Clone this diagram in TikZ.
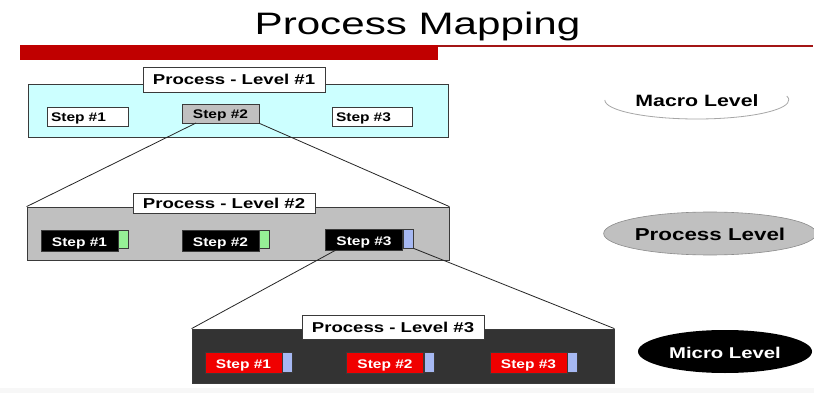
\documentclass[tikz,border=0pt]{standalone}
\usepackage{fontspec}
\setmainfont{Liberation Sans}
\newfontfamily\titlefont[FakeStretch=1.36]{Liberation Sans}
\newfontfamily\labelfont[FakeStretch=1.3]{Liberation Sans}
\newfontfamily\stepfont[FakeStretch=1.24]{Liberation Sans}
\usetikzlibrary{shapes.geometric}

\definecolor{barred}{HTML}{C00000}
\definecolor{barline}{HTML}{A31515}
\definecolor{cyanbg}{HTML}{CCFFFF}
\definecolor{greybox}{HTML}{C0C0C0}
\definecolor{darkbg}{HTML}{333333}
\definecolor{tabgreen}{HTML}{96F096}
\definecolor{tabblue}{HTML}{A6B8F2}
\definecolor{stepred}{HTML}{F00000}
\definecolor{edge}{HTML}{3A3A3A}

\tikzset{
  panel/.style={draw=edge, line width=0.8pt, inner sep=0pt},
  heading/.style={draw=edge, fill=white, line width=0.8pt, minimum width=182pt,
    inner sep=0pt, text height=11pt, text depth=0pt,
    font=\labelfont\bfseries\fontsize{14.3}{16}\selectfont},
  stepbox/.style={draw=edge, line width=0.7pt, minimum width=77pt, minimum height=21pt,
    inner sep=0pt, text height=11pt, text depth=0pt,
    font=\stepfont\bfseries\fontsize{12.5}{14}\selectfont},
  tab/.style={draw=edge, line width=0.7pt, minimum width=10pt, minimum height=19pt,
    inner sep=0pt, anchor=north west},
  link/.style={draw=black!85, line width=0.8pt},
  levelname/.style={ellipse, inner sep=0pt, text height=13pt, text depth=0pt,
    font=\labelfont\bfseries\fontsize{16.5}{19}\selectfont}
}

\begin{document}
\begin{tikzpicture}[x=1pt,y=-1pt]
\useasboundingbox (0,0) rectangle (814,393);
\fill[white] (0,0) rectangle (814,393);
\fill[black!3] (0,388) rectangle (814,393);

% heading and red rule
\node[font=\titlefont\fontsize{31}{36}\selectfont, anchor=base] (title) at (417.5,35) {Process Mapping};
\draw[line width=2.5pt, barline] (430,46.2) -- (813,46.2);
\fill[barred] (20,45) rectangle (438,60);

% level 1
\node[panel, fill=cyanbg, minimum width=420pt, minimum height=53pt] (lvlA) at (238,110.5) {};
\node[heading, minimum height=25pt] (headA) at (234,79.5) {Process - Level \#1};
\node[stepbox, fill=white, minimum width=81pt, minimum height=19pt, text width=73pt, align=left] (a1) at (87.5,116.5) {Step \#1};
\node[stepbox, fill=greybox, minimum height=19pt] (a2) at (220.5,113.5) {Step \#2};
\node[stepbox, fill=white, minimum width=80pt, minimum height=19pt, text width=72pt, align=left] (a3) at (372,116.5) {Step \#3};

% level 2
\node[panel, fill=greybox, minimum width=422pt, minimum height=53pt] (lvlB) at (238,233.5) {};
\node[heading, minimum height=20pt] (headB) at (224,203) {Process - Level \#2};
\node[stepbox, fill=black, text=white] (b1) at (79.5,240.5) {Step \#1};
\node[tab, fill=tabgreen, minimum height=18pt] (g1) at (b1.north east) {};
\node[stepbox, fill=black, text=white] (b2) at (220.5,240.5) {Step \#2};
\node[tab, fill=tabgreen, minimum height=18pt] (g2) at (b2.north east) {};
\node[stepbox, fill=black, text=white] (b3) at (364,239.5) {Step \#3};
\node[tab, fill=tabblue] (t3) at (b3.north east) {};

% level 3
\node[panel, fill=darkbg, minimum width=422pt, minimum height=54pt] (lvlC) at (403,356) {};
\node[heading, minimum height=24pt] (headC) at (393,327) {Process - Level \#3};
\node[stepbox, fill=stepred, text=white] (c1) at (243.5,362.5) {Step \#1};
\node[tab, fill=tabblue, minimum height=20pt] (u1) at (c1.north east) {};
\node[stepbox, fill=stepred, text=white] (c2) at (385,362.5) {Step \#2};
\node[tab, fill=tabblue, minimum height=20pt] (u2) at (c2.north east) {};
\node[stepbox, fill=stepred, text=white] (c3) at (528.5,362.5) {Step \#3};
\node[tab, fill=tabblue, minimum height=20pt] (u3) at (c3.north east) {};

% zoom lines between levels
\coordinate (a2foot) at (196,123);
\coordinate (b3foot) at (336,250);
\draw[link] (a2foot) -- (lvlB.north west);
\draw[link] (a2.south east) -- (lvlB.north east);
\draw[link] (b3foot) -- (lvlC.north west);
\draw[link] (t3.south east) -- (lvlC.north east);

% level names
\node[levelname, fill=white, minimum width=184pt, minimum height=38pt,
  font=\labelfont\bfseries\fontsize{16.4}{19}\selectfont] (macro) at (697,100) {Macro Level};
\draw[black!35, line width=0.8pt] (macro.west) arc[start angle=180, end angle=-12, x radius=92, y radius=19];
\node[levelname, fill=greybox, draw=black!45, line width=0.6pt, minimum width=186pt, minimum height=43pt,
  font=\labelfont\bfseries\fontsize{17.2}{19}\selectfont] (proc) at (710,233.5) {Process Level};
\node[levelname, fill=black, text=white, minimum width=174pt, minimum height=43pt,
  font=\labelfont\bfseries\fontsize{15.6}{19}\selectfont] (micro) at (725,351.5) {Micro Level};
\end{tikzpicture}
\end{document}
